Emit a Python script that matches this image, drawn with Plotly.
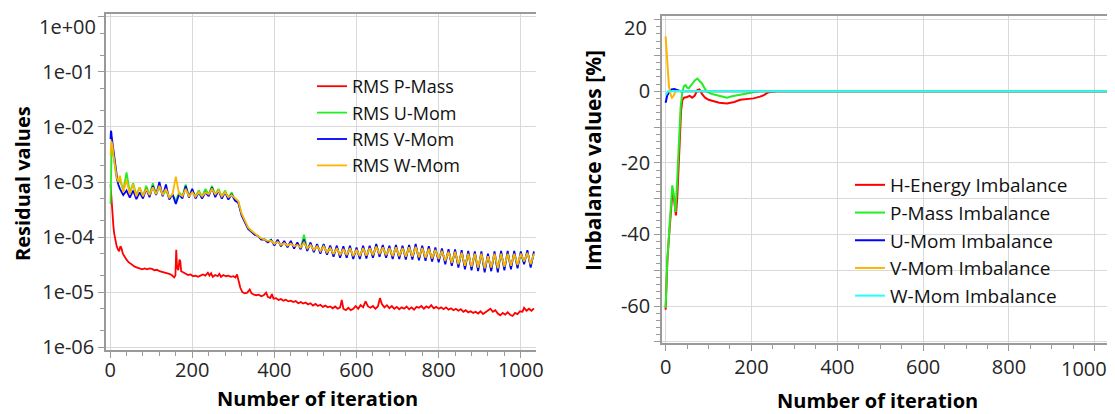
import plotly.graph_objects as go

# ---------------- Left chart: RMS residuals ----------------
it_p_mass = [1, 2, 4, 6, 8, 10, 13, 16, 19, 22, 25, 28, 31, 35, 40, 45, 50, 55, 60, 66,
             72, 78, 84, 90, 96, 102, 108, 114, 120, 126, 132, 138, 144, 150, 156, 159, 161, 163, 166, 169,
             171, 173, 178, 184, 190, 196, 202, 208, 214, 220, 226, 232, 238, 242, 246, 250, 256, 262, 266, 270,
             276, 282, 288, 294, 300, 305, 309, 313, 317, 322, 328, 334, 340, 344, 350, 356, 362, 368, 374, 380,
             384, 390, 394, 398, 404, 410, 416, 422, 428, 434, 440, 446, 452, 458, 464, 470, 476, 482, 488, 494,
             500, 506, 512, 518, 524, 530, 536, 542, 548, 554, 560, 564, 568, 574, 580, 586, 592, 598, 604, 610,
             616, 622, 628, 634, 640, 646, 652, 657, 662, 668, 674, 680, 686, 692, 698, 704, 710, 716, 722, 728,
             734, 740, 746, 752, 758, 764, 770, 776, 782, 788, 794, 800, 806, 812, 818, 824, 830, 836, 842, 848,
             854, 860, 866, 872, 878, 884, 890, 896, 902, 908, 914, 920, 926, 932, 938, 944, 950, 956, 962, 968,
             974, 980, 986, 992, 998, 1004, 1008, 1014, 1020, 1026, 1032]
rms_p_mass = [9.0e-4, 6.5e-4, 4.0e-4, 2.5e-4, 1.6e-4, 1.15e-4, 8.5e-5, 6.8e-5, 6.0e-5, 5.5e-5,
              6.8e-5, 6.2e-5, 5.0e-5, 4.4e-5, 3.9e-5, 3.5e-5, 3.3e-5, 3.0e-5, 2.9e-5, 2.8e-5,
              2.7e-5, 2.6e-5, 2.7e-5, 2.6e-5, 2.7e-5, 2.65e-5, 2.5e-5, 2.55e-5, 2.4e-5, 2.35e-5,
              2.3e-5, 2.2e-5, 2.15e-5, 2.05e-5, 1.85e-5, 2.0e-5, 5.9e-5, 2.8e-5, 2.5e-5, 3.9e-5,
              3.6e-5, 2.4e-5, 2.3e-5, 2.2e-5, 2.05e-5, 2.1e-5, 1.95e-5, 2.0e-5, 1.9e-5, 2.0e-5,
              2.1e-5, 2.0e-5, 2.25e-5, 2.0e-5, 2.2e-5, 1.9e-5, 2.05e-5, 1.95e-5, 2.15e-5, 1.9e-5,
              2.05e-5, 1.95e-5, 2.0e-5, 1.9e-5, 1.95e-5, 1.85e-5, 2.1e-5, 1.6e-5, 1.2e-5, 1.0e-5,
              9.5e-6, 9.8e-6, 1.12e-5, 9.6e-6, 9.0e-6, 8.8e-6, 9.0e-6, 8.4e-6, 8.8e-6, 9.8e-6,
              8.2e-6, 7.8e-6, 9.2e-6, 7.6e-6, 7.8e-6, 7.2e-6, 7.5e-6, 7.0e-6, 7.3e-6, 6.8e-6,
              7.0e-6, 6.6e-6, 6.9e-6, 6.3e-6, 6.6e-6, 6.2e-6, 6.5e-6, 6.0e-6, 6.3e-6, 5.7e-6,
              6.1e-6, 5.6e-6, 5.9e-6, 5.4e-6, 5.7e-6, 5.3e-6, 5.5e-6, 5.1e-6, 5.5e-6, 5.0e-6,
              5.3e-6, 7.2e-6, 5.0e-6, 4.7e-6, 5.2e-6, 4.7e-6, 5.0e-6, 5.6e-6, 5.0e-6, 5.8e-6,
              5.3e-6, 6.8e-6, 5.5e-6, 5.2e-6, 5.6e-6, 5.0e-6, 5.5e-6, 7.8e-6, 6.0e-6, 5.3e-6,
              5.8e-6, 5.1e-6, 5.6e-6, 5.0e-6, 5.4e-6, 4.9e-6, 5.3e-6, 5.0e-6, 5.5e-6, 4.9e-6,
              5.3e-6, 4.8e-6, 5.4e-6, 5.2e-6, 5.6e-6, 5.0e-6, 5.5e-6, 5.2e-6, 5.8e-6, 5.1e-6,
              5.4e-6, 5.0e-6, 5.3e-6, 4.9e-6, 5.3e-6, 4.8e-6, 5.1e-6, 4.7e-6, 5.0e-6, 4.6e-6,
              4.9e-6, 4.4e-6, 4.7e-6, 4.3e-6, 4.5e-6, 4.2e-6, 4.4e-6, 4.1e-6, 4.5e-6, 4.0e-6,
              4.3e-6, 4.6e-6, 5.0e-6, 4.4e-6, 4.7e-6, 4.1e-6, 3.8e-6, 4.2e-6, 3.9e-6, 4.3e-6,
              3.9e-6, 3.7e-6, 4.2e-6, 4.0e-6, 4.5e-6, 4.4e-6, 5.2e-6, 4.6e-6, 5.0e-6, 4.6e-6,
              5.1e-6]

# iteration samples for the momentum residuals
it_mom = [1, 2, 3, 4, 6, 8, 10, 12, 14, 16, 18, 20] + list(range(24, 1033, 8))

rms_u_mom = [4.0e-4, 3.0e-3, 5.0e-3, 5.0e-3, 4.2e-3, 3.0e-3, 2.3e-3, 1.8e-3, 1.4e-3, 1.15e-3, 1.05e-3, 9.5e-4,
             1.1e-3, 7.0e-4, 1.5e-3, 6.5e-4, 9.5e-4, 5.8e-4, 8.0e-4, 5.5e-4, 8.5e-4, 5.8e-4,
             9.5e-4, 6.0e-4, 8.0e-4, 5.8e-4, 7.0e-4, 5.0e-4, 6.0e-4, 4.5e-4, 6.5e-4, 5.5e-4,
             9.0e-4, 5.5e-4, 7.0e-4, 5.5e-4, 7.0e-4, 5.5e-4, 7.5e-4, 6.0e-4, 8.5e-4, 6.0e-4,
             7.5e-4, 5.5e-4, 7.0e-4, 5.2e-4, 6.5e-4, 4.8e-4, 4.4e-4, 2.6e-4, 1.9e-4, 1.45e-4,
             1.3e-4, 1.1e-4, 1.05e-4, 9.3e-5, 9.2e-5, 8.2e-5, 9.0e-5,
             7.3e-5, 8.5e-5, 7.0e-5, 8.0e-5, 6.8e-5, 8.0e-5, 6.6e-5, 7.5e-5, 6.3e-5, 1.1e-4,
             6.0e-5, 7.5e-5, 5.6e-5, 7.0e-5, 5.3e-5, 7.2e-5, 5.1e-5, 6.5e-5, 4.7e-5, 6.5e-5,
             4.5e-5, 6.3e-5, 4.5e-5, 6.5e-5, 4.3e-5, 6.0e-5, 4.3e-5, 6.5e-5, 4.4e-5, 6.5e-5,
             4.5e-5, 7.2e-5, 4.7e-5, 6.8e-5, 4.5e-5, 6.5e-5, 4.3e-5, 6.8e-5, 4.3e-5, 6.5e-5,
             4.2e-5, 6.8e-5, 4.2e-5, 7.0e-5, 4.1e-5, 6.5e-5, 4.0e-5, 6.3e-5, 3.9e-5, 6.0e-5,
             3.8e-5, 5.8e-5, 3.5e-5, 5.6e-5, 3.2e-5, 5.5e-5, 3.0e-5, 5.3e-5, 2.8e-5, 5.2e-5,
             2.7e-5, 5.0e-5, 2.6e-5, 5.0e-5, 2.5e-5, 4.6e-5, 2.6e-5, 5.0e-5, 2.5e-5, 5.2e-5,
             2.7e-5, 5.2e-5, 2.8e-5, 5.2e-5, 2.9e-5, 5.0e-5, 3.4e-5, 5.4e-5, 3.0e-5, 5.0e-5]

rms_v_mom = [6.0e-3, 8.5e-3, 8.0e-3, 6.5e-3, 5.0e-3, 3.5e-3, 2.6e-3, 2.0e-3, 1.5e-3, 1.2e-3, 1.05e-3, 9.0e-4,
             7.5e-4, 5.8e-4, 7.0e-4, 5.2e-4, 7.0e-4, 4.9e-4, 6.5e-4, 5.0e-4, 7.5e-4, 5.3e-4,
             8.5e-4, 5.8e-4, 1.0e-3, 5.5e-4, 9.0e-4, 4.8e-4, 6.0e-4, 4.0e-4, 6.0e-4, 5.0e-4,
             8.5e-4, 5.2e-4, 7.5e-4, 5.0e-4, 6.5e-4, 5.0e-4, 6.5e-4, 5.5e-4, 8.0e-4, 5.3e-4,
             7.0e-4, 5.0e-4, 6.5e-4, 4.8e-4, 6.0e-4, 4.6e-4, 4.2e-4, 2.5e-4, 1.9e-4, 1.4e-4,
             1.25e-4, 1.1e-4, 1.05e-4, 9.0e-5, 9.0e-5, 8.0e-5, 8.8e-5,
             7.0e-5, 9.0e-5, 6.8e-5, 8.5e-5, 6.5e-5, 8.5e-5, 6.2e-5, 8.0e-5, 6.0e-5, 9.0e-5,
             5.6e-5, 8.0e-5, 5.3e-5, 7.5e-5, 5.0e-5, 7.5e-5, 4.8e-5, 7.0e-5, 4.4e-5, 7.0e-5,
             4.2e-5, 6.8e-5, 4.2e-5, 7.0e-5, 4.0e-5, 6.5e-5, 4.0e-5, 7.0e-5, 4.1e-5, 7.0e-5,
             4.2e-5, 7.5e-5, 4.4e-5, 7.2e-5, 4.2e-5, 7.0e-5, 4.0e-5, 7.2e-5, 4.0e-5, 7.0e-5,
             3.9e-5, 7.2e-5, 3.9e-5, 7.5e-5, 3.8e-5, 7.0e-5, 3.7e-5, 6.8e-5, 3.6e-5, 6.5e-5,
             3.5e-5, 6.2e-5, 3.2e-5, 6.0e-5, 3.0e-5, 6.0e-5, 2.8e-5, 5.8e-5, 2.6e-5, 5.6e-5,
             2.5e-5, 5.5e-5, 2.4e-5, 5.5e-5, 2.3e-5, 5.0e-5, 2.4e-5, 5.5e-5, 2.3e-5, 5.6e-5,
             2.5e-5, 5.6e-5, 2.6e-5, 5.6e-5, 2.7e-5, 5.5e-5, 3.2e-5, 5.8e-5, 2.8e-5, 5.5e-5]

rms_w_mom = [3.0e-3, 5.0e-3, 5.5e-3, 5.2e-3, 4.5e-3, 3.2e-3, 2.4e-3, 1.8e-3, 1.4e-3, 1.2e-3, 1.1e-3, 1.0e-3,
             1.3e-3, 6.5e-4, 1.1e-3, 6.0e-4, 9.0e-4, 5.5e-4, 8.0e-4, 5.5e-4, 7.5e-4, 5.8e-4,
             8.0e-4, 6.0e-4, 8.5e-4, 5.8e-4, 7.5e-4, 5.2e-4, 6.0e-4, 1.25e-3, 6.0e-4, 5.5e-4,
             7.5e-4, 5.5e-4, 6.5e-4, 5.4e-4, 6.5e-4, 5.5e-4, 6.5e-4, 6.0e-4, 7.5e-4, 6.0e-4,
             7.0e-4, 5.5e-4, 6.5e-4, 5.3e-4, 5.8e-4, 5.0e-4, 4.5e-4, 2.7e-4, 2.0e-4, 1.5e-4,
             1.3e-4, 1.15e-4, 1.05e-4, 9.5e-5, 9.0e-5, 8.5e-5, 8.5e-5,
             7.5e-5, 8.2e-5, 7.2e-5, 7.8e-5, 7.0e-5, 7.6e-5, 6.8e-5, 7.2e-5, 6.5e-5, 8.0e-5,
             6.2e-5, 7.2e-5, 5.8e-5, 6.8e-5, 5.5e-5, 6.8e-5, 5.3e-5, 6.3e-5, 4.9e-5, 6.3e-5,
             4.7e-5, 6.1e-5, 4.7e-5, 6.3e-5, 4.5e-5, 5.9e-5, 4.5e-5, 6.3e-5, 4.6e-5, 6.3e-5,
             4.7e-5, 6.7e-5, 4.9e-5, 6.5e-5, 4.7e-5, 6.3e-5, 4.5e-5, 6.5e-5, 4.5e-5, 6.3e-5,
             4.4e-5, 6.5e-5, 4.4e-5, 6.7e-5, 4.3e-5, 6.3e-5, 4.2e-5, 6.1e-5, 4.1e-5, 5.9e-5,
             4.0e-5, 5.6e-5, 3.7e-5, 5.4e-5, 3.4e-5, 5.4e-5, 3.2e-5, 5.2e-5, 3.0e-5, 5.0e-5,
             2.9e-5, 5.0e-5, 2.8e-5, 5.0e-5, 2.7e-5, 4.5e-5, 2.8e-5, 5.0e-5, 2.7e-5, 5.0e-5,
             2.9e-5, 5.0e-5, 3.0e-5, 5.0e-5, 3.1e-5, 5.0e-5, 3.6e-5, 5.2e-5, 3.2e-5, 5.0e-5]

residual_names = ["RMS P-Mass", "RMS U-Mom", "RMS V-Mom", "RMS W-Mom"]
residual_ticks = [1, 1e-1, 1e-2, 1e-3, 1e-4, 1e-5, 1e-6]
residual_tick_text = ["1e+00", "1e-01", "1e-02", "1e-03", "1e-04", "1e-05", "1e-06"]

# ---------------- Right chart: imbalances (%) ----------------
it_h_energy = [0, 4, 8, 12, 16, 20, 24, 27, 30, 33, 36, 39, 43, 50, 56, 62, 68, 74, 79, 85,
               92, 100, 110, 125, 143, 160, 174, 190, 205, 220, 229, 238, 245, 260, 1040]
h_energy_imb = [-61, -47.5, -40.5, -33, -28, -30.5, -34.7, -30, -20, -12, -5.5, -2.5, -1.8, -1.6, -1.3,
                -1.8, -1.2, 0.3, 0.5, -0.8, -1.8, -2.4, -2.8, -3.2, -3.4, -3.0, -2.4, -2.3, -2.0, -1.5,
                -1.1, -0.4, -0.2, 0, 0]
it_p_mass_imb = [0, 4, 8, 12, 15.5, 19, 23, 27, 31, 35, 39, 43, 46.5, 50, 54, 58, 62, 68, 74, 80,
                 85, 91, 97, 108, 120, 132, 143, 155, 167, 180, 190, 205, 221, 1040]
p_mass_imb = [-60.5, -47, -39.8, -32.3, -26.3, -28.6, -33.7, -24.9, -13.7, -4.4, -0.2, 1.5, 1.7, 1.0, 0.8,
              1.5, 2.1, 3.0, 3.5, 2.8, 2.1, 0.8, -0.2, -0.8, -1.1, -1.6, -1.8, -1.4, -1.1, -0.8,
              -0.5, -0.3, 0, 0]
it_u_mom_imb = [0, 2, 4, 8, 14, 20, 26, 35, 1040]
u_mom_imb = [-3.2, -2.0, -1.1, -0.3, 0.5, 0.6, 0.3, 0, 0]
it_v_mom_imb = [0, 2, 4, 6, 8, 10, 12, 15, 19, 23, 1040]
v_mom_imb = [15.3, 12.5, 8.7, 4.5, 1.2, -0.3, -1.1, -1.8, -1.2, 0, 0]
it_w_mom_imb = [0, 3, 6, 1040]
w_mom_imb = [-1.0, -0.3, 0, 0]

imbalance_names = ["H-Energy Imbalance", "P-Mass Imbalance", "U-Mom Imbalance",
                   "V-Mom Imbalance", "W-Mom Imbalance"]
imb_tick_vals = [-70, -60, -50, -40, -30, -20, -10, 0, 10, 20]
imb_tick_text = ["", "-60", "", "-40", "", "-20", "", "0", "", "20"]
iter_ticks = [0, 200, 400, 600, 800, 1000]
iter_tick_text = ["0", "200", "400", "600", "800", "1000"]

assert len(it_p_mass) == len(rms_p_mass)
for s in (rms_u_mom, rms_v_mom, rms_w_mom):
    assert len(s) == len(it_mom), (len(s), len(it_mom))

# ---------------- Styling ----------------
# the page body adds an 8 px offset; work in page pixels and convert
OFF = 8
W, H = 1115 - OFF, 414 - OFF
FONT = "Open Sans"
TICK_FONT = dict(family=FONT, size=20, color="#262626")
TITLE_FONT = dict(family=FONT, size=20, color="#000000")
GRID = "#d9d9d9"
AXIS = "#9a9a9a"

RED, GREEN, BLUE, ORANGE, CYAN = "#ff0000", "#22ee22", "#0000ff", "#ffb400", "#22ffff"


def px_x(p):
    return (p - OFF) / W


def px_y(p):
    return 1 - (p - OFF) / H


fig = go.Figure()

res_series = [(it_p_mass, rms_p_mass, RED), (it_mom, rms_u_mom, GREEN),
              (it_mom, rms_v_mom, BLUE), (it_mom, rms_w_mom, ORANGE)]
for name, (xs, ys, col) in zip(residual_names, res_series):
    fig.add_trace(go.Scatter(x=xs, y=ys, name=name, mode="lines",
                             line=dict(color=col, width=1.8),
                             xaxis="x", yaxis="y", legend="legend"))

imb_series = [(it_h_energy, h_energy_imb, RED), (it_p_mass_imb, p_mass_imb, GREEN),
              (it_u_mom_imb, u_mom_imb, BLUE), (it_v_mom_imb, v_mom_imb, ORANGE),
              (it_w_mom_imb, w_mom_imb, CYAN)]
for name, (xs, ys, col) in zip(imbalance_names, imb_series):
    fig.add_trace(go.Scatter(x=xs, y=ys, name=name, mode="lines",
                             line=dict(color=col, width=2),
                             xaxis="x2", yaxis="y2", legend="legend2"))

common_x = dict(showgrid=True, gridcolor=GRID, gridwidth=1, zeroline=False,
                showline=True, linecolor=AXIS, linewidth=1.5, mirror=True,
                ticks="outside", ticklen=6, tickcolor=AXIS, tickwidth=1,
                tickfont=TICK_FONT, tickvals=iter_ticks, automargin=False)
common_y = dict(showgrid=True, gridcolor=GRID, zeroline=False,
                showline=True, linecolor=AXIS, linewidth=1.5,
                ticks="outside", ticklen=6, tickcolor=AXIS,
                tickfont=TICK_FONT, automargin=False)

# labels the original software nudged inward at the plot edges
edge_labels = [
    dict(text=residual_tick_text[0], x=px_x(98), y=px_y(26), xanchor="right"),
    dict(text=imb_tick_text[-1], x=px_x(649), y=px_y(27), xanchor="right"),
    dict(text=iter_tick_text[-1], x=px_x(1084), y=px_y(368), xanchor="center"),
]

fig.update_layout(
    width=W, height=H,
    paper_bgcolor="white", plot_bgcolor="white",
    margin=dict(l=0, r=0, t=0, b=0),
    showlegend=True,
    xaxis=dict(domain=[px_x(106), px_x(536)], range=[-10, 1037],
               ticktext=iter_tick_text, ticklabelstandoff=-5,
               minor=dict(dtick=40, ticks="outside", ticklen=4, tickcolor=AXIS, showgrid=False),
               anchor="y", **common_x),
    yaxis=dict(domain=[px_y(350), px_y(14)], type="log", range=[-6.05, 0.05],
               tickvals=residual_ticks, ticktext=[""] + residual_tick_text[1:],
               minor=dict(ticks="outside", ticklen=4, tickcolor=AXIS, showgrid=False),
               anchor="x", **common_y),
    xaxis2=dict(domain=[px_x(662), 1.0], range=[-8.4, 1047],
                ticktext=iter_tick_text[:-1] + [""], ticklabelstandoff=-1,
                minor=dict(dtick=50, ticks="outside", ticklen=4, tickcolor=AXIS, showgrid=False),
                anchor="y2", **common_x),
    yaxis2=dict(domain=[px_y(343), px_y(16)], range=[-70.3, 21],
                tickvals=imb_tick_vals, ticktext=imb_tick_text[:-1] + [""],
                minor=dict(dtick=2, ticks="outside", ticklen=4, tickcolor=AXIS, showgrid=False),
                anchor="x2", **common_y),
    legend=dict(x=px_x(312), y=px_y(68), xanchor="left", yanchor="top",
                font=dict(family=FONT, size=18, color="#111111"),
                bgcolor="rgba(0,0,0,0)", tracegroupgap=0, itemwidth=30),
    legend2=dict(x=px_x(850), y=px_y(166), xanchor="left", yanchor="top",
                 font=dict(family=FONT, size=19, color="#111111"),
                 bgcolor="rgba(0,0,0,0)", tracegroupgap=0, itemwidth=30),
    annotations=[
        dict(text="<b>Number of iteration</b>", x=px_x(317), y=px_y(398), xref="paper", yref="paper",
             xanchor="center", yanchor="middle", showarrow=False, font=TITLE_FONT),
        dict(text="<b>Residual values</b>", x=px_x(22), y=px_y(184), xref="paper", yref="paper",
             xanchor="center", yanchor="middle", showarrow=False, font=TITLE_FONT, textangle=-90),
        dict(text="<b>Number of iteration</b>", x=px_x(877), y=px_y(400), xref="paper", yref="paper",
             xanchor="center", yanchor="middle", showarrow=False, font=TITLE_FONT),
        dict(text="<b>Imbalance values [%]</b>", x=px_x(593), y=px_y(161), xref="paper", yref="paper",
             xanchor="center", yanchor="middle", showarrow=False, font=dict(TITLE_FONT, size=21),
             textangle=-90),
    ] + [dict(a, xref="paper", yref="paper", yanchor="middle", showarrow=False, font=TICK_FONT)
         for a in edge_labels],
)

fig.write_html("out.html")
